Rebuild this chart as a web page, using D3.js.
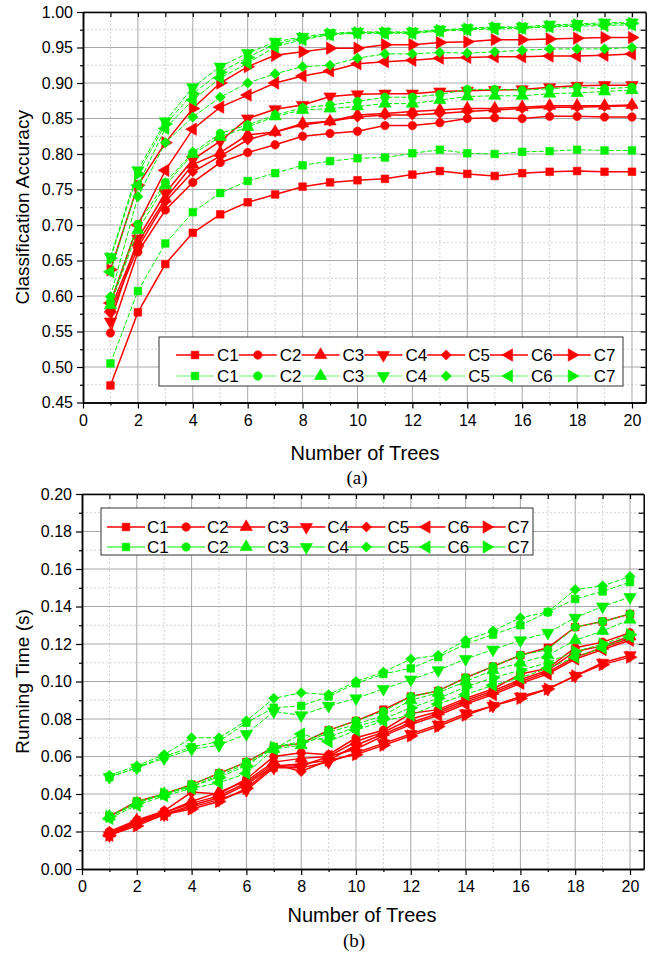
<!DOCTYPE html>
<html>
<head>
<meta charset="utf-8">
<script src="https://cdn.jsdelivr.net/npm/d3@7"></script>
<style>
body { margin: 0; background: #fff; }
text { font-family: "Liberation Sans", Arial, sans-serif; fill: #000; }
</style>
</head>
<body>
<script>
// number of trees on the x axis
var trees = [1, 2, 3, 4, 5, 6, 7, 8, 9, 10, 11, 12, 13, 14, 15, 16, 17, 18, 19, 20];
var classNames = ["C1", "C2", "C3", "C4", "C5", "C6", "C7"];

// (a) classification accuracy, red series C1..C7
var accRed = [
  [0.474, 0.577, 0.645, 0.689, 0.715, 0.732, 0.743, 0.754, 0.760, 0.763, 0.765, 0.771, 0.776, 0.772, 0.769, 0.773, 0.775, 0.776, 0.775, 0.775],
  [0.548, 0.662, 0.721, 0.760, 0.788, 0.802, 0.813, 0.825, 0.829, 0.832, 0.840, 0.840, 0.844, 0.850, 0.851, 0.850, 0.853, 0.853, 0.852, 0.852],
  [0.582, 0.675, 0.737, 0.785, 0.802, 0.827, 0.831, 0.843, 0.846, 0.855, 0.857, 0.860, 0.862, 0.864, 0.864, 0.866, 0.868, 0.868, 0.868, 0.869],
  [0.564, 0.681, 0.745, 0.792, 0.818, 0.850, 0.863, 0.869, 0.881, 0.884, 0.885, 0.885, 0.888, 0.889, 0.890, 0.891, 0.894, 0.896, 0.897, 0.897],
  [0.576, 0.668, 0.733, 0.775, 0.797, 0.820, 0.831, 0.841, 0.846, 0.852, 0.855, 0.855, 0.857, 0.860, 0.862, 0.864, 0.866, 0.866, 0.867, 0.868],
  [0.590, 0.700, 0.777, 0.835, 0.866, 0.883, 0.900, 0.910, 0.917, 0.927, 0.930, 0.932, 0.935, 0.936, 0.937, 0.937, 0.938, 0.938, 0.939, 0.941],
  [0.637, 0.756, 0.816, 0.864, 0.900, 0.923, 0.939, 0.944, 0.949, 0.949, 0.954, 0.954, 0.957, 0.958, 0.961, 0.961, 0.962, 0.963, 0.964, 0.964]
];
// (a) classification accuracy, green series C1..C7
var accGreen = [
  [0.505, 0.607, 0.674, 0.718, 0.745, 0.762, 0.773, 0.784, 0.790, 0.794, 0.795, 0.801, 0.806, 0.801, 0.800, 0.803, 0.804, 0.806, 0.805, 0.805],
  [0.592, 0.701, 0.760, 0.802, 0.829, 0.841, 0.855, 0.865, 0.869, 0.874, 0.880, 0.880, 0.884, 0.891, 0.891, 0.890, 0.892, 0.894, 0.892, 0.894],
  [0.587, 0.693, 0.756, 0.800, 0.824, 0.838, 0.853, 0.862, 0.864, 0.867, 0.871, 0.871, 0.876, 0.881, 0.882, 0.882, 0.885, 0.886, 0.888, 0.890],
  [0.655, 0.777, 0.846, 0.894, 0.923, 0.942, 0.958, 0.965, 0.970, 0.972, 0.972, 0.972, 0.975, 0.977, 0.979, 0.979, 0.982, 0.983, 0.985, 0.985],
  [0.599, 0.740, 0.816, 0.852, 0.880, 0.900, 0.913, 0.923, 0.925, 0.935, 0.941, 0.941, 0.943, 0.942, 0.944, 0.946, 0.948, 0.948, 0.948, 0.950],
  [0.634, 0.756, 0.836, 0.876, 0.907, 0.928, 0.951, 0.961, 0.968, 0.970, 0.970, 0.970, 0.973, 0.975, 0.976, 0.977, 0.979, 0.980, 0.981, 0.982],
  [0.653, 0.772, 0.842, 0.885, 0.915, 0.936, 0.955, 0.963, 0.969, 0.971, 0.971, 0.971, 0.974, 0.976, 0.978, 0.978, 0.980, 0.982, 0.983, 0.984]
];

// (b) running time in seconds, red series C1..C7
var timeRed = [
  [0.028, 0.036, 0.040, 0.045, 0.051, 0.057, 0.065, 0.067, 0.074, 0.079, 0.085, 0.092, 0.095, 0.102, 0.108, 0.114, 0.118, 0.129, 0.132, 0.136],
  [0.020, 0.026, 0.031, 0.041, 0.040, 0.048, 0.060, 0.062, 0.061, 0.070, 0.074, 0.083, 0.085, 0.091, 0.096, 0.104, 0.107, 0.118, 0.121, 0.126],
  [0.019, 0.026, 0.030, 0.036, 0.041, 0.047, 0.057, 0.059, 0.060, 0.068, 0.073, 0.080, 0.084, 0.090, 0.095, 0.101, 0.106, 0.116, 0.119, 0.124],
  [0.018, 0.024, 0.029, 0.033, 0.037, 0.042, 0.054, 0.054, 0.057, 0.062, 0.067, 0.072, 0.077, 0.083, 0.087, 0.092, 0.096, 0.103, 0.110, 0.114],
  [0.019, 0.025, 0.030, 0.035, 0.039, 0.046, 0.056, 0.052, 0.058, 0.066, 0.072, 0.078, 0.083, 0.089, 0.094, 0.100, 0.105, 0.113, 0.118, 0.123],
  [0.018, 0.025, 0.029, 0.034, 0.038, 0.045, 0.055, 0.055, 0.060, 0.064, 0.071, 0.077, 0.082, 0.088, 0.093, 0.099, 0.104, 0.112, 0.117, 0.122],
  [0.018, 0.023, 0.029, 0.032, 0.036, 0.043, 0.055, 0.056, 0.058, 0.061, 0.066, 0.071, 0.076, 0.082, 0.087, 0.091, 0.096, 0.103, 0.109, 0.113]
];
// (b) running time in seconds, green series C1..C7
var timeGreen = [
  [0.049, 0.054, 0.060, 0.065, 0.068, 0.078, 0.086, 0.087, 0.092, 0.099, 0.104, 0.107, 0.113, 0.120, 0.125, 0.130, 0.137, 0.144, 0.148, 0.153],
  [0.028, 0.036, 0.040, 0.045, 0.051, 0.057, 0.065, 0.067, 0.074, 0.079, 0.084, 0.092, 0.095, 0.102, 0.108, 0.114, 0.117, 0.129, 0.132, 0.136],
  [0.028, 0.035, 0.040, 0.044, 0.050, 0.056, 0.064, 0.066, 0.073, 0.077, 0.082, 0.090, 0.094, 0.100, 0.106, 0.110, 0.114, 0.122, 0.127, 0.133],
  [0.049, 0.054, 0.059, 0.064, 0.066, 0.072, 0.084, 0.082, 0.087, 0.091, 0.096, 0.101, 0.106, 0.112, 0.117, 0.122, 0.126, 0.134, 0.140, 0.145],
  [0.050, 0.055, 0.061, 0.070, 0.070, 0.079, 0.091, 0.094, 0.093, 0.100, 0.105, 0.112, 0.114, 0.122, 0.127, 0.134, 0.137, 0.149, 0.151, 0.156],
  [0.027, 0.034, 0.039, 0.043, 0.046, 0.051, 0.064, 0.072, 0.068, 0.074, 0.079, 0.082, 0.088, 0.093, 0.098, 0.102, 0.107, 0.113, 0.118, 0.124],
  [0.028, 0.035, 0.040, 0.044, 0.049, 0.055, 0.065, 0.068, 0.070, 0.076, 0.080, 0.086, 0.091, 0.097, 0.102, 0.106, 0.110, 0.116, 0.120, 0.125]
];

// tick labels
var treeTicks = [0, 2, 4, 6, 8, 10, 12, 14, 16, 18, 20];
var accTicks = [0.45, 0.50, 0.55, 0.60, 0.65, 0.70, 0.75, 0.80, 0.85, 0.90, 0.95, 1.00];
var timeTicks = [0.00, 0.02, 0.04, 0.06, 0.08, 0.10, 0.12, 0.14, 0.16, 0.18, 0.20];

var red = "#ff0000";
var green = "#00f000";

var shapes = [
  { type: d3.symbolSquare, rot: 0, size: 58 },
  { type: d3.symbolCircle, rot: 0, size: 56 },
  { type: d3.symbolTriangle, rot: 0, size: 66 },
  { type: d3.symbolTriangle, rot: 180, size: 66 },
  { type: d3.symbolSquare, rot: 45, size: 52 },
  { type: d3.symbolTriangle, rot: -90, size: 66 },
  { type: d3.symbolTriangle, rot: 90, size: 66 }
];

var svg = d3.select("body")
  .append("svg")
  .attr("width", 658)
  .attr("height", 956);

function marker(sel, k, color, cx, cy) {
  var s = shapes[k];
  sel.append("path")
    .attr("d", d3.symbol().type(s.type).size(s.size)())
    .attr("transform", "translate(" + cx + "," + cy + ") rotate(" + s.rot + ")")
    .attr("fill", color)
    .attr("stroke", color)
    .attr("stroke-width", 0.6);
}

function drawPanel(p) {
  var x = d3.scaleLinear().domain([0, 20.5]).range([p.left, p.right]);
  var y = d3.scaleLinear().domain([p.yTicks[0], p.yTicks[p.yTicks.length - 1]]).range([p.bottom, p.top]);
  var g = svg.append("g");

  var minorX = [1, 3, 5, 7, 9, 11, 13, 15, 17, 19];
  var minorY = [];
  for (var i = 0; i < p.yTicks.length - 1; i++) minorY.push((p.yTicks[i] + p.yTicks[i + 1]) / 2);

  // grid
  g.selectAll(".gxm").data(minorX).enter().append("line")
    .attr("x1", d => x(d)).attr("x2", d => x(d))
    .attr("y1", p.top).attr("y2", p.bottom)
    .attr("stroke", "#c8c8c8").attr("stroke-dasharray", "2,2").attr("stroke-width", 0.8);
  g.selectAll(".gym").data(minorY).enter().append("line")
    .attr("x1", p.left).attr("x2", p.right)
    .attr("y1", d => y(d)).attr("y2", d => y(d))
    .attr("stroke", "#c8c8c8").attr("stroke-dasharray", "2,2").attr("stroke-width", 0.8);
  g.selectAll(".gx").data(treeTicks.slice(1)).enter().append("line")
    .attr("x1", d => x(d)).attr("x2", d => x(d))
    .attr("y1", p.top).attr("y2", p.bottom)
    .attr("stroke", "#a8a8a8").attr("stroke-width", 1);
  g.selectAll(".gy").data(p.yTicks.slice(1)).enter().append("line")
    .attr("x1", p.left).attr("x2", p.right)
    .attr("y1", d => y(d)).attr("y2", d => y(d))
    .attr("stroke", "#a8a8a8").attr("stroke-width", 1);

  // series
  var line = d3.line().x((d, i) => x(trees[i])).y(d => y(d));
  [{ data: p.red, color: red, width: 1.5, dash: null },
   { data: p.green, color: green, width: 1, dash: "5,2" }].forEach(function (grp) {
    grp.data.forEach(function (vals, k) {
      g.append("path")
        .attr("d", line(vals))
        .attr("fill", "none")
        .attr("stroke", grp.color)
        .attr("stroke-width", grp.width)
        .attr("stroke-dasharray", grp.dash);
      var mg = g.append("g");
      vals.forEach(function (v, i) { marker(mg, k, grp.color, x(trees[i]), y(v)); });
    });
  });

  // axes
  var fmt = d3.format(".2f");
  g.append("g").attr("transform", "translate(0," + p.bottom + ")")
    .call(d3.axisBottom(x).tickValues(treeTicks).tickSizeInner(6).tickSizeOuter(0).tickPadding(6).tickFormat(d3.format("d")));
  g.append("g").attr("transform", "translate(0," + p.bottom + ")")
    .call(d3.axisBottom(x).tickValues(minorX).tickSizeInner(3).tickSizeOuter(0).tickFormat(""));
  g.append("g").attr("transform", "translate(" + p.left + ",0)")
    .call(d3.axisLeft(y).tickValues(p.yTicks).tickSizeInner(6).tickSizeOuter(0).tickPadding(4).tickFormat(fmt));
  g.append("g").attr("transform", "translate(" + p.left + ",0)")
    .call(d3.axisLeft(y).tickValues(minorY).tickSizeInner(3).tickSizeOuter(0).tickFormat(""));
  g.append("g").attr("transform", "translate(0," + p.top + ")")
    .call(d3.axisTop(x).tickValues(treeTicks.concat(minorX)).tickSizeInner(-5).tickSizeOuter(0).tickFormat(""));
  g.append("g").attr("transform", "translate(" + p.right + ",0)")
    .call(d3.axisRight(y).tickValues(p.yTicks.concat(minorY)).tickSizeInner(-5).tickSizeOuter(0).tickFormat(""));
  g.selectAll(".domain").attr("stroke", "#000").attr("stroke-width", 1.5);
  g.selectAll(".tick line").attr("stroke", "#000").attr("stroke-width", 1.2);
  g.selectAll(".tick text").style("font-size", "16px").attr("fill", "#000");

  // titles
  g.append("text")
    .attr("transform", "translate(" + p.yTitleX + "," + ((p.top + p.bottom) / 2) + ") rotate(-90)")
    .attr("text-anchor", "middle").attr("dy", "0.35em")
    .style("font-size", "19px").text(p.yTitle);
  g.append("text")
    .attr("x", p.xTitleX).attr("y", p.xTitleY).attr("text-anchor", "middle")
    .style("font-size", "20px").text("Number of Trees");
  g.append("text")
    .attr("x", p.xTitleX - 8).attr("y", p.capY).attr("text-anchor", "middle")
    .style("font-family", "'Liberation Serif', 'Times New Roman', serif")
    .style("font-size", "19px").text(p.caption);

  // legend
  var L = p.legend;
  var lg = g.append("g");
  lg.append("rect")
    .attr("x", L.x).attr("y", L.y).attr("width", L.w).attr("height", L.h)
    .attr("fill", "#fff").attr("stroke", "#333").attr("stroke-width", 1);
  [{ color: red, width: 1.5, row: L.row1 }, { color: green, width: L.greenWidth, row: L.row2 }].forEach(function (r) {
    classNames.forEach(function (name, k) {
      var mx = L.mx + k * L.step;
      lg.append("line")
        .attr("x1", mx - 19).attr("x2", mx + 19)
        .attr("y1", r.row).attr("y2", r.row)
        .attr("stroke", r.color).attr("stroke-width", r.width);
      marker(lg, k, r.color, mx, r.row);
      lg.append("text")
        .attr("x", mx + L.textDx).attr("y", r.row).attr("dy", "0.36em")
        .style("font-size", "17px").text(name);
    });
  });
}

drawPanel({
  left: 83, right: 645.7, top: 12, bottom: 402.5,
  yTicks: accTicks, red: accRed, green: accGreen,
  yTitle: "Classification Accuracy", yTitleX: 22,
  xTitleX: 365, xTitleY: 460, capY: 484, caption: "(a)",
  legend: { x: 159, y: 337, w: 464, h: 49, row1: 355, row2: 376, mx: 195, step: 62.8, textDx: 22, greenWidth: 0.6 }
});

drawPanel({
  left: 82, right: 643.7, top: 494, bottom: 869,
  yTicks: timeTicks, red: timeRed, green: timeGreen,
  yTitle: "Running Time (s)", yTitleX: 22,
  xTitleX: 362, xTitleY: 922, capY: 947, caption: "(b)",
  legend: { x: 101, y: 508, w: 432, h: 47, row1: 527, row2: 547, mx: 126, step: 60.1, textDx: 21, greenWidth: 1 }
});
</script>
</body>
</html>
